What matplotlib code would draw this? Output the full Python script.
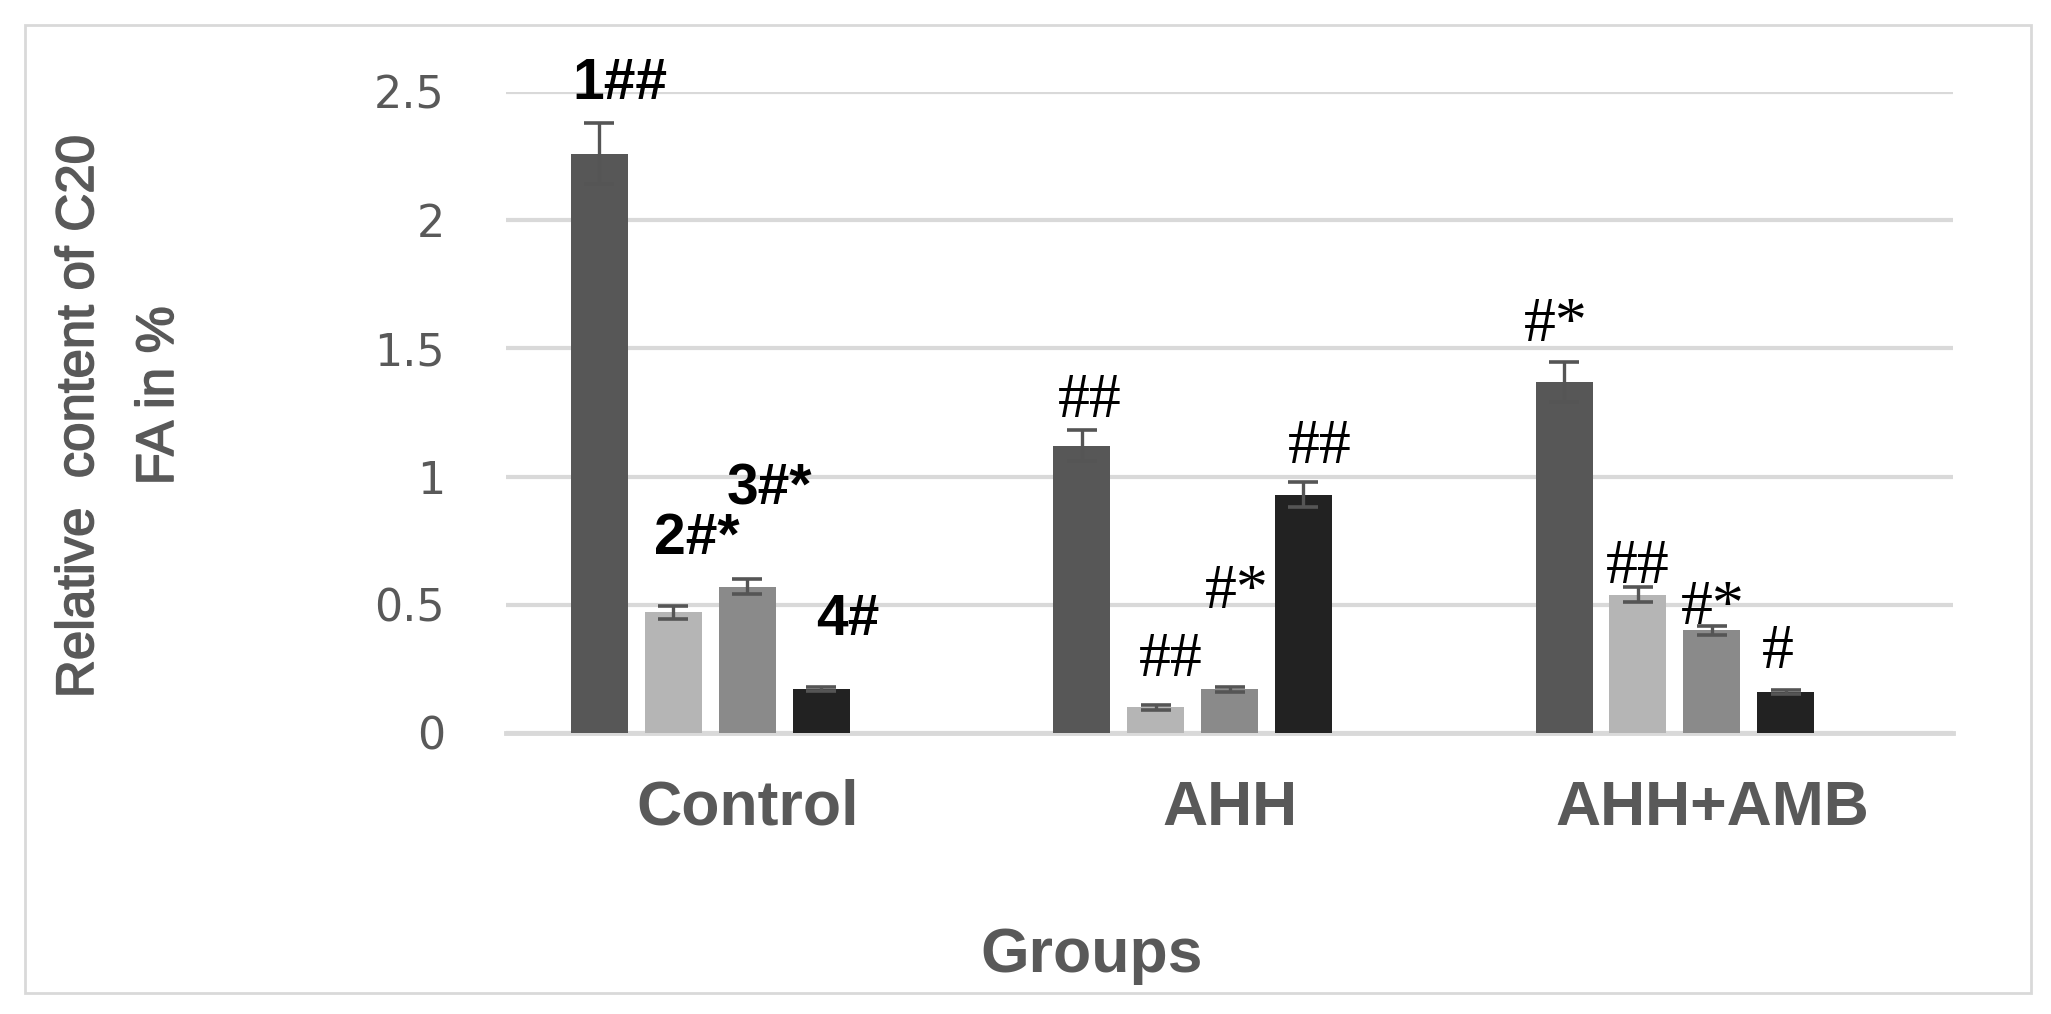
import matplotlib
matplotlib.use("Agg")
import matplotlib.pyplot as plt
from matplotlib.patches import Rectangle
import matplotlib.patheffects as pe
import numpy as np

# ---- data ----
groups = ["Control", "AHH", "AHH+AMB"]
series1 = [2.26, 1.12, 1.37]
series2 = [0.47, 0.10, 0.54]
series3 = [0.57, 0.17, 0.40]
series4 = [0.17, 0.93, 0.16]
err1 = [0.12, 0.06, 0.078]
err2 = [0.026, 0.01, 0.028]
err3 = [0.029, 0.01, 0.018]
err4 = [0.008, 0.049, 0.008]
labels1 = ["1##", "##", "#*"]
labels2 = ["2#*", "##", "##"]
labels3 = ["3#*", "#*", "#*"]
labels4 = ["4#", "##", "#"]
yticks = [0, 0.5, 1, 1.5, 2, 2.5]
ytick_labels = ["0", "0.5", "1", "1.5", "2", "2.5"]
ylabel_lines = ["Relative  content of C20", "FA in %"]
xlabel = "Groups"

values = [series1, series2, series3, series4]
errors = [err1, err2, err3, err4]
labels = [labels1, labels2, labels3, labels4]

# ---- style ----
colors = ["#575757", "#b5b5b5", "#8a8a8a", "#222222"]
# label offsets (points) relative to top of error bar: (dx, dy) per [series][group]
offs = [
    [(15, 17), (6, 10), (-6, 15)],
    [(17, 37), (11, 21), (0, 3)],
    [(16, 54), (5, 57), (1, 1)],
    [(19, 38), (12, 14), (-6, 16)],
]
bold_group = [True, False, False]

W, H = 2051, 1014
fig = plt.figure(figsize=(W / 100, H / 100), dpi=100)
ax = fig.add_axes([506 / W, 1 - 733 / H, (1953 - 506) / W, (733 - 92) / H])

x = np.arange(len(groups))
slot = 0.1532
bw = 0.118
for i in range(4):
    xs = x + (i - 2) * slot
    ax.bar(xs, values[i], width=bw, color=colors[i], zorder=3)
    ax.errorbar(xs, values[i], yerr=errors[i], fmt="none",
                ecolor="#555555", elinewidth=2.4, capsize=10.5, capthick=2.6, zorder=4)
    for g in range(3):
        top = values[i][g] + errors[i][g]
        dx, dy = offs[i][g]
        if bold_group[g]:
            kw = dict(family="Liberation Sans", fontweight="bold", fontsize=41)
        else:
            kw = dict(family="Liberation Serif", fontsize=46)
        ax.annotate(labels[i][g], xy=(xs[g], top), xytext=(dx, dy),
                    textcoords="offset points", ha="center", va="baseline",
                    color="black", annotation_clip=False, zorder=5, **kw)

ax.set_xlim(-0.5, 2.5)
ax.set_ylim(0, 2.5)
ax.set_yticks(yticks)
ax.set_yticklabels(ytick_labels)
ax.yaxis.grid(True, color="#d9d9d9", linewidth=3, zorder=0)
ax.set_axisbelow(True)
for s in ["top", "right", "left"]:
    ax.spines[s].set_visible(False)
ax.spines["bottom"].set_color("#d9d9d9")
ax.spines["bottom"].set_linewidth(3.5)
ax.spines["bottom"].set_zorder(2)
ax.tick_params(axis="y", length=0, pad=44, labelsize=32, labelcolor="#595959")
ax.tick_params(axis="x", length=0, pad=33, labelsize=45, labelcolor="#595959")
ax.set_xticks(x)
ax.set_xticklabels(groups, fontweight="bold", family="Liberation Sans")
for t in ax.get_yticklabels():
    t.set_family("DejaVu Sans")

fig.text(1092 / W, 1 - 972 / H, xlabel, ha="center", va="baseline",
         fontsize=45, fontweight="bold", color="#595959", family="Liberation Sans")
stroke = [pe.withStroke(linewidth=1.2, foreground="#595959")]
fig.text(79 / W, 1 - 417 / H, ylabel_lines[0], rotation=90, ha="center", va="center",
         fontsize=38, color="#595959", family="Liberation Sans", path_effects=stroke)
fig.text(159 / W, 1 - 396 / H, ylabel_lines[1], rotation=90, ha="center", va="center",
         fontsize=38, color="#595959", family="Liberation Sans", path_effects=stroke)

fig.patches.append(Rectangle((25 / W, 1 - 993 / H), (2031 - 25) / W, (993 - 25) / H,
                             transform=fig.transFigure, fill=False,
                             edgecolor="#d9d9d9", linewidth=2))

fig.savefig("out.png", dpi=100, facecolor="white")
